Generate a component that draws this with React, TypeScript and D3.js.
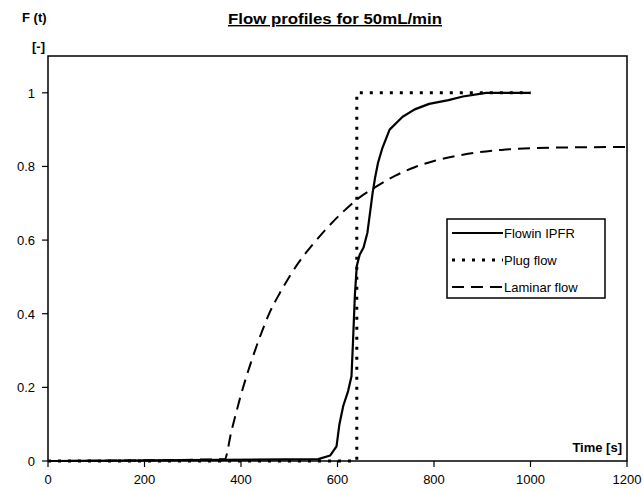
import React from "react";
import * as d3 from "d3";

// time [s] and F(t)
const ipfrTime = [0, 560, 585, 598, 604, 612, 622, 629, 632, 636, 640, 646, 654, 662, 668, 673, 678, 684, 693, 708, 735, 760, 790, 830, 860, 908, 950, 1000];
const ipfrF = [0, 0.005, 0.015, 0.04, 0.1, 0.15, 0.19, 0.23, 0.32, 0.45, 0.53, 0.56, 0.58, 0.62, 0.68, 0.73, 0.77, 0.81, 0.85, 0.9, 0.935, 0.955, 0.97, 0.98, 0.99, 1.0, 1.0, 1.0];

const plugTime = [0, 640, 640, 1000];
const plugF = [0, 0, 1, 1];

const laminarTime = [0, 366, 380, 400, 420, 440, 460, 480, 500, 520, 550, 580, 610, 640, 680, 720, 760, 800, 860, 940, 1040, 1200];
const laminarF = [0, 0.005, 0.08, 0.18, 0.265, 0.34, 0.405, 0.455, 0.5, 0.54, 0.59, 0.635, 0.675, 0.71, 0.745, 0.775, 0.798, 0.815, 0.832, 0.845, 0.851, 0.853];

const xTicks = [0, 200, 400, 600, 800, 1000, 1200];
const yTicks = [0, 0.2, 0.4, 0.6, 0.8, 1];

const legendLabels = ["Flowin IPFR", "Plug flow", "Laminar flow"];

const width = 644;
const height = 491;
const margin = { top: 56, right: 17, bottom: 30, left: 48 };

const font = "'Liberation Sans', Arial, sans-serif";

export default function App() {
  const x = d3.scaleLinear().domain([0, 1200]).range([margin.left, width - margin.right]);
  const y = d3.scaleLinear().domain([0, 1.1]).range([height - margin.bottom, margin.top]);

  const line = d3
    .line<[number, number]>()
    .x((d) => x(d[0]))
    .y((d) => y(d[1]));

  const smooth = d3
    .line<[number, number]>()
    .x((d) => x(d[0]))
    .y((d) => y(d[1]))
    .curve(d3.curveMonotoneX);

  const zip = (a: number[], b: number[]) => a.map((v, i) => [v, b[i]] as [number, number]);

  // line styles per series
  const series = [
    { d: line(zip(ipfrTime, ipfrF)), width: 2.2, dash: "" },
    { d: line(zip(plugTime, plugF)), width: 3, dash: "3,7" },
    { d: smooth(zip(laminarTime, laminarF)), width: 2, dash: "12,7" },
  ];

  const x0 = x(0);
  const x1 = x(1200);
  const y0 = y(0);
  const yTop = y(1.1);

  const lg = { x: 447, y: 219, w: 158, h: 79 };

  return (
    <svg
      width={width}
      height={height}
      style={{ position: "absolute", left: 0, top: 0, background: "#fff" }}
      fontFamily={font}
    >
      {/* titles */}
      <text x={335} y={24} textAnchor="middle" fontSize={14} fontWeight="bold" textDecoration="underline" textLength={214} lengthAdjust="spacingAndGlyphs">
        Flow profiles for 50mL/min
      </text>
      <text x={22} y={22} fontSize={13} fontWeight="bold">F (t)</text>
      <text x={32} y={51} fontSize={13} fontWeight="bold">[-]</text>

      {/* plot frame */}
      <path d={`M${x0},${y0}V${yTop}H${x1}V${y0}H${x0}`} fill="none" stroke="#000" strokeWidth={1.5} />

      {/* y axis */}
      {yTicks.map((t) => (
        <g key={"y" + t}>
          <line x1={x0 - 6} x2={x0} y1={y(t)} y2={y(t)} stroke="#000" strokeWidth={1.2} />
          <text x={x0 - 13} y={y(t) + 5} textAnchor="end" fontSize={13}>{t}</text>
        </g>
      ))}

      {/* x axis */}
      {xTicks.map((t) => (
        <g key={"x" + t}>
          <line x1={x(t)} x2={x(t)} y1={y0} y2={y0 + 6} stroke="#000" strokeWidth={1.2} />
          <text x={x(t)} y={y0 + 23} textAnchor="middle" fontSize={13}>{t}</text>
        </g>
      ))}

      <text x={x1 - 5} y={y0 - 9} textAnchor="end" fontSize={13} fontWeight="bold">Time [s]</text>

      {/* data */}
      {series.map((s, i) => (
        <path key={i} d={s.d || ""} fill="none" stroke="#000" strokeWidth={s.width} strokeDasharray={s.dash || undefined} strokeLinejoin="round" />
      ))}

      {/* legend */}
      <rect x={lg.x} y={lg.y} width={lg.w} height={lg.h} fill="#fff" stroke="#000" strokeWidth={1.5} />
      {legendLabels.map((label, i) => {
        const ly = lg.y + 14 + i * 27;
        const s = series[i];
        return (
          <g key={label}>
            <line x1={lg.x + 5} x2={lg.x + 56} y1={ly} y2={ly} stroke="#000" strokeWidth={s.width} strokeDasharray={s.dash || undefined} />
            <text x={lg.x + 57} y={ly + 5} fontSize={13}>{label}</text>
          </g>
        );
      })}
    </svg>
  );
}
